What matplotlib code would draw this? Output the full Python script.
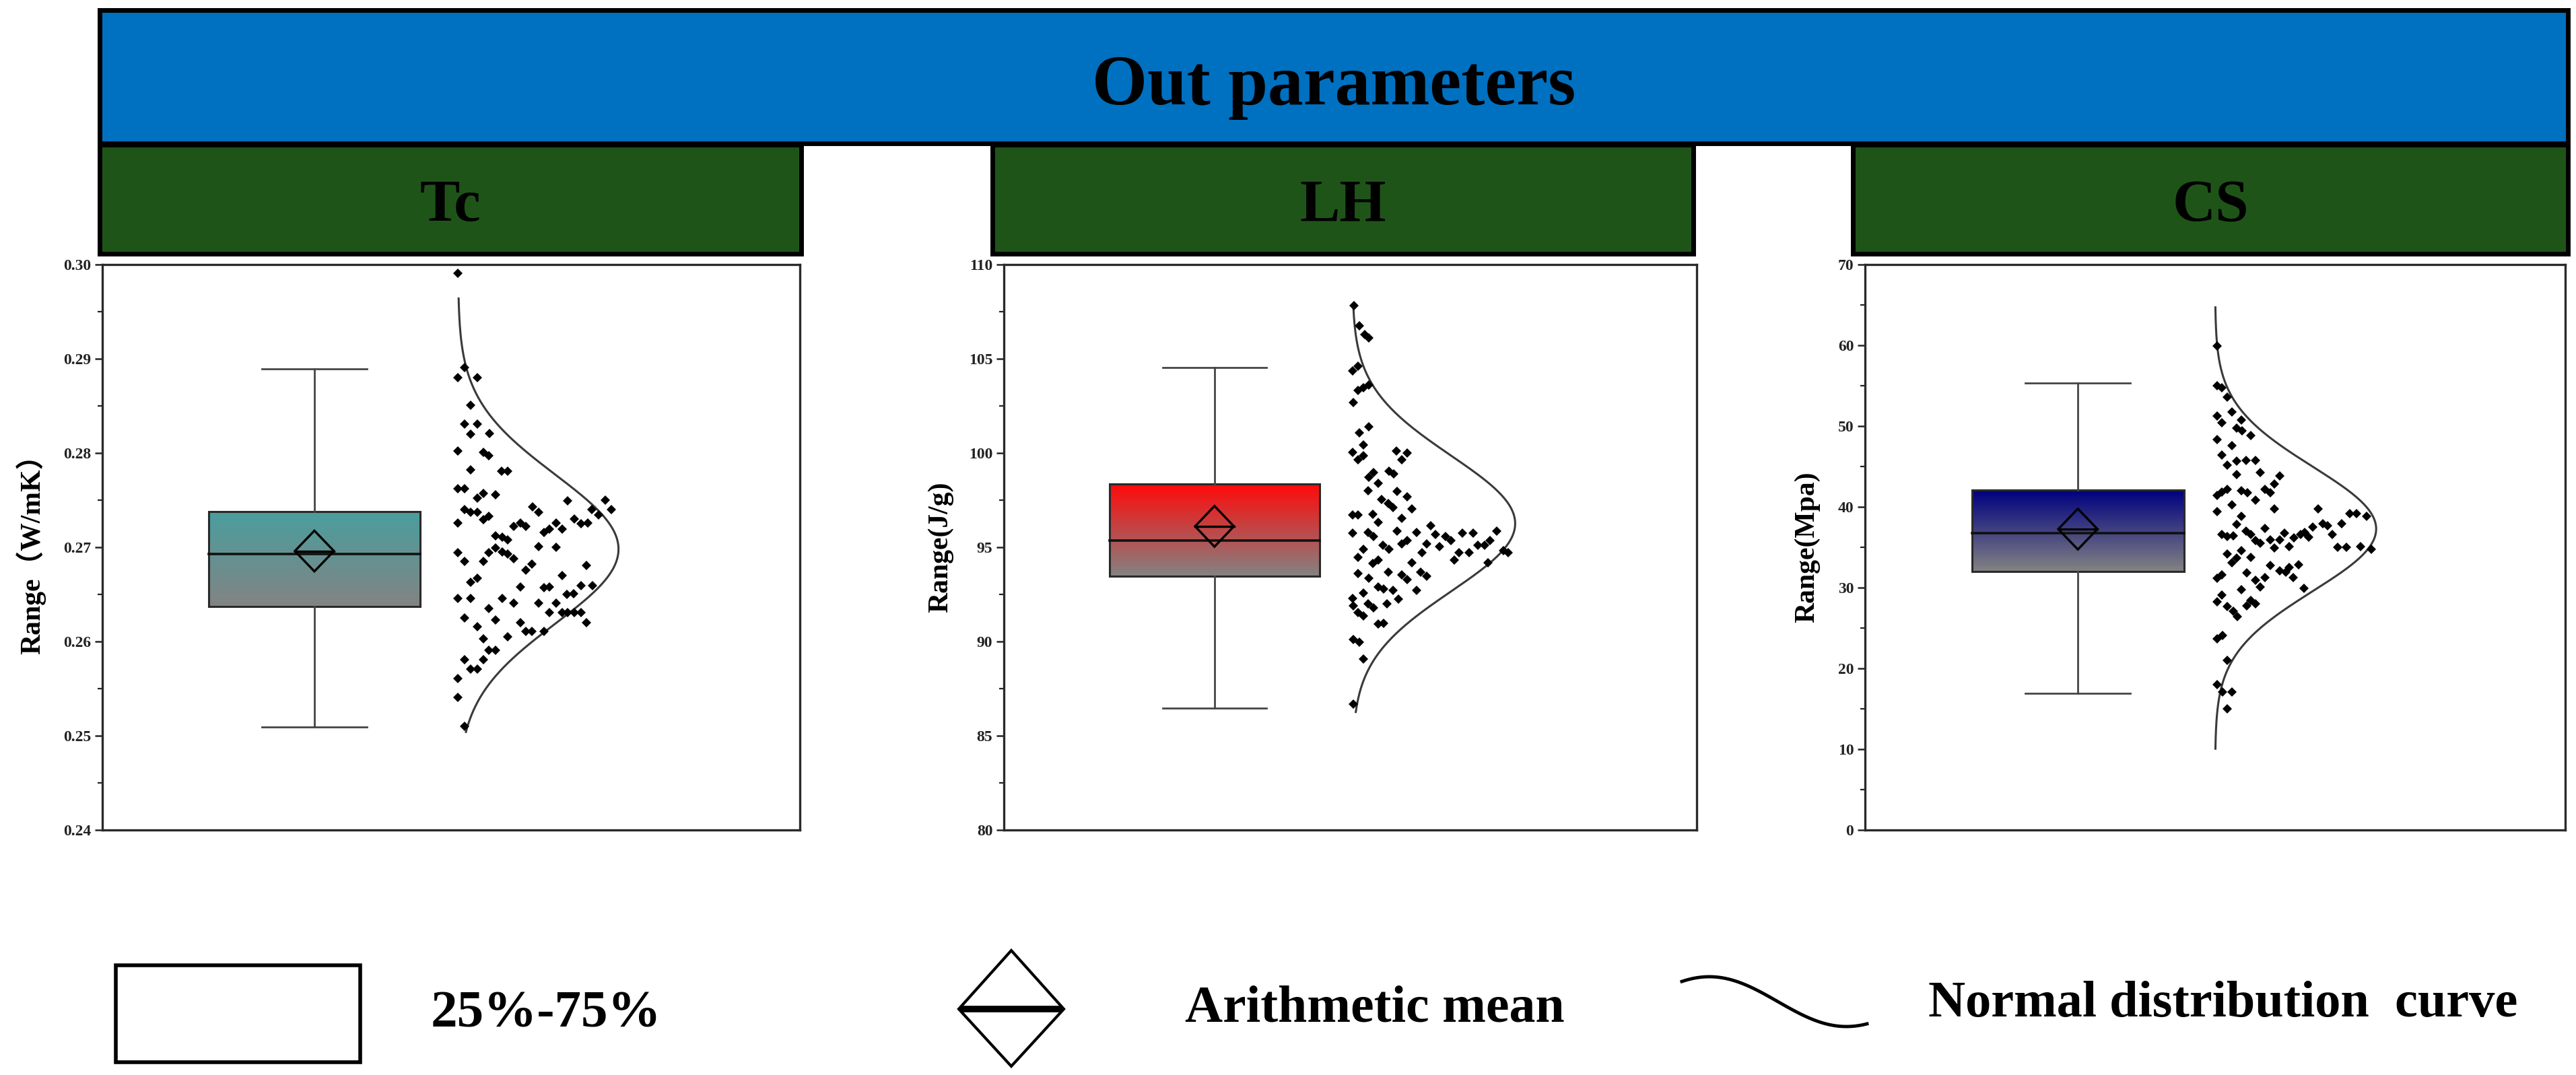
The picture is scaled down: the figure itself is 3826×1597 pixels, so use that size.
import numpy as np
import matplotlib
matplotlib.use("Agg")
import matplotlib.pyplot as plt
from matplotlib.patches import Rectangle, Polygon
from matplotlib.colors import to_rgb
from matplotlib.ticker import AutoMinorLocator, FormatStrFormatter

plt.rcParams['font.family'] = ['Liberation Serif', 'Noto Sans CJK SC', 'DejaVu Sans']
plt.rcParams['font.weight'] = 'bold'

# ---- data ----
header_title = 'Out parameters'
panel_names = ['Tc', 'LH', 'CS']
y_labels = ['Range（W/mK）', 'Range(J/g)', 'Range(Mpa)']
y_limits = [(0.24, 0.30), (80, 110), (0, 70)]
y_steps = [0.01, 5, 10]
tick_formats = ['%.2f', '%d', '%d']

box_q1 = [0.2637, 93.47, 32.02]
box_median = [0.2693, 95.34, 36.72]
box_q3 = [0.2738, 98.35, 42.08]
box_mean = [0.2696, 96.11, 37.25]
whisker_low = [0.2509, 86.47, 16.93]
whisker_high = [0.2889, 104.55, 55.34]

curve_mean = [0.2698, 96.26, 37.27]
curve_sd = [0.0079, 3.6, 7.7]
curve_low = [0.2504, 86.26, 10.06]
curve_high = [0.2964, 107.92, 64.7]

tc_values = [0.2991, 0.2891, 0.2880, 0.2880, 0.2851, 0.2831, 0.2831, 0.2820, 0.2821, 0.2802,
             0.2801, 0.2797, 0.2782, 0.2781, 0.2781, 0.2762, 0.2762, 0.2752, 0.2757, 0.2756,
             0.2740, 0.2737, 0.2737, 0.2729, 0.2733, 0.2726, 0.2743, 0.2737, 0.2749, 0.2750,
             0.2740, 0.2734, 0.2740, 0.2722, 0.2726, 0.2722, 0.2716, 0.2719, 0.2726, 0.2719,
             0.2730, 0.2725, 0.2726, 0.2712, 0.2711, 0.2708, 0.2694, 0.2699, 0.2695, 0.2693,
             0.2688, 0.2694, 0.2685, 0.2685, 0.2701, 0.2700, 0.2676, 0.2682, 0.2681, 0.2663,
             0.2667, 0.2658, 0.2657, 0.2658, 0.2670, 0.2659, 0.2659, 0.2650, 0.2651, 0.2646,
             0.2646, 0.2646, 0.2641, 0.2641, 0.2631, 0.2641, 0.2631, 0.2631, 0.2631, 0.2631,
             0.2620, 0.2625, 0.2616, 0.2635, 0.2623, 0.2620, 0.2611, 0.2611, 0.2611, 0.2603,
             0.2605, 0.2591, 0.2591, 0.2581, 0.2571, 0.2571, 0.2581, 0.2561, 0.2541, 0.2510]
tc_spread = [0, 0.042, 0, 0.120, 0.078, 0.042, 0.120, 0.078, 0.196, 0,
             0.158, 0.193, 0.078, 0.270, 0.311, 0, 0.042, 0.120, 0.158, 0.235,
             0.042, 0.078, 0.120, 0.158, 0.193, 0, 0.465, 0.500, 0.682, 0.916,
             0.835, 0.874, 0.954, 0.346, 0.388, 0.423, 0.535, 0.570, 0.612, 0.647,
             0.723, 0.765, 0.807, 0.235, 0.274, 0.311, 0.193, 0.235, 0.274, 0.311,
             0.346, 0, 0.042, 0.158, 0.500, 0.612, 0.423, 0.461, 0.800, 0.078,
             0.120, 0.388, 0.535, 0.570, 0.647, 0.765, 0.838, 0.679, 0.721, 0,
             0.078, 0.274, 0.346, 0.500, 0.570, 0.612, 0.647, 0.682, 0.723, 0.765,
             0.800, 0.042, 0.120, 0.193, 0.235, 0.388, 0.423, 0.461, 0.535, 0.158,
             0.311, 0.193, 0.235, 0.042, 0.078, 0.120, 0.158, 0, 0, 0.042]

lh_values = [107.82, 106.76, 106.27, 106.11, 104.37, 104.62, 103.32, 103.45, 103.59, 102.67,
             101.06, 101.41, 100.05, 99.66, 100.44, 99.86, 100.09, 99.66, 100.01, 98.73,
             98.98, 98.40, 99.04, 98.89, 98.01, 97.95, 97.68, 97.53, 97.33, 97.10,
             97.04, 96.71, 96.71, 96.75, 96.32, 96.52, 95.74, 95.78, 95.58, 95.87,
             95.78, 96.13, 95.68, 95.58, 95.35, 95.74, 95.74, 95.87, 95.35, 95.10,
             95.10, 94.81, 94.71, 95.10, 94.90, 95.19, 95.35, 94.71, 95.19, 95.04,
             94.71, 94.71, 94.32, 94.18, 94.46, 94.90, 94.13, 94.32, 94.18, 93.60,
             93.35, 93.68, 93.54, 93.29, 93.68, 93.45, 92.71, 92.90, 92.77, 92.71,
             92.57, 92.28, 91.89, 91.99, 91.79, 91.99, 92.24, 91.54, 91.35, 90.92,
             90.96, 90.10, 89.95, 89.07, 86.68]
lh_spread = [0.010, 0.041, 0.076, 0.103, 0, 0.034, 0.034, 0.069, 0.100, 0.007,
             0.041, 0.100, 0, 0.034, 0.069, 0.069, 0.269, 0.303, 0.337, 0.100,
             0.131, 0.158, 0.227, 0.255, 0.096, 0.275, 0.337, 0.179, 0.220, 0.248,
             0.365, 0, 0.034, 0.124, 0.158, 0.303, 0, 0.096, 0.131, 0.275,
             0.393, 0.482, 0.510, 0.572, 0.606, 0.675, 0.744, 0.888, 0.847, 0.771,
             0.813, 0.930, 0.957, 0.186, 0.227, 0.303, 0.337, 0.427, 0.455, 0.537,
             0.654, 0.716, 0.627, 0.833, 0.034, 0.069, 0.124, 0.158, 0.365, 0.034,
             0.103, 0.220, 0.303, 0.337, 0.420, 0.455, 0.393, 0.158, 0.193, 0.248,
             0.069, 0, 0.007, 0.096, 0.131, 0.213, 0.282, 0.034, 0.069, 0.158,
             0.193, 0.007, 0.041, 0.069, 0.007]

cs_values = [59.93, 55.04, 54.72, 53.59, 51.23, 50.41, 51.77, 50.78, 49.73, 49.42,
             48.83, 48.37, 47.60, 46.42, 45.20, 45.65, 45.79, 45.79, 43.98, 44.29,
             43.84, 42.80, 41.44, 41.80, 42.16, 42.03, 41.71, 40.80, 42.16, 41.71,
             39.44, 40.21, 39.76, 39.76, 39.17, 39.17, 38.85, 38.85, 37.81, 36.59,
             36.36, 36.45, 37.04, 36.59, 35.82, 35.54, 37.36, 35.91, 35.91, 36.72,
             34.91, 35.09, 36.13, 36.59, 36.81, 36.27, 37.49, 37.95, 37.63, 36.59,
             37.95, 35.00, 35.00, 35.09, 34.77, 34.18, 33.10, 33.64, 34.55, 33.73,
             32.73, 32.05, 31.92, 32.51, 32.82, 31.28, 29.92, 31.83, 30.92, 30.10,
             31.28, 31.15, 31.60, 29.79, 29.11, 28.29, 27.66, 27.07, 26.39, 27.75,
             27.97, 28.43, 23.67, 24.12, 21.04, 17.99, 17.09, 17.09, 14.96]
cs_spread = [0.011, 0.011, 0.042, 0.077, 0.011, 0.042, 0.104, 0.164, 0.132, 0.167,
             0.223, 0.011, 0.104, 0.042, 0.077, 0.132, 0.192, 0.251, 0.132, 0.281,
             0.401, 0.369, 0.011, 0.042, 0.077, 0.164, 0.202, 0.251, 0.309, 0.341,
             0.011, 0.104, 0.369, 0.638, 0.838, 0.877, 0.940, 0.164, 0.132, 0.042,
             0.077, 0.111, 0.192, 0.223, 0.251, 0.281, 0.309, 0.341, 0.401, 0.432,
             0.369, 0.460, 0.490, 0.529, 0.557, 0.582, 0.606, 0.669, 0.699, 0.727,
             0.787, 0.759, 0.815, 0.905, 0.968, 0.077, 0.104, 0.132, 0.164, 0.223,
             0.341, 0.401, 0.439, 0.460, 0.518, 0.487, 0.550, 0.195, 0.251, 0.281,
             0.309, 0.011, 0.042, 0.164, 0.042, 0.011, 0.077, 0.111, 0.139, 0.195,
             0.251, 0.223, 0.011, 0.045, 0.077, 0.011, 0.045, 0.104, 0.077]

point_values = [tc_values, lh_values, cs_values]
point_spread = [tc_spread, lh_spread, cs_spread]

legend_labels = ['25%-75%', 'Arithmetic mean', 'Normal distribution  curve']

# ---- styling ----
box_top_colors = ['#4a9e9e', '#ff0a0a', '#000080']
box_bottom_color = '#838383'
header_blue = '#0070c0'
header_green = '#1f5419'

W, H = 3826, 1597
fig = plt.figure(figsize=(W / 100, H / 100), dpi=100)

# axes boxes in pixels: left, right
axes_px = [(152, 1188), (1491, 2520), (2770, 3810)]
ax_top, ax_bottom = 393, 1233
label_x = [-0.081, -0.073, -0.064]
scatter_base = [0.510, 0.503, 0.500]
scatter_width = [0.230, 0.235, 0.230]

box_c, box_hw, cap_hw = 0.304, 0.1515, 0.075
dia_hw, dia_hh = 0.028, 0.036

for i in range(3):
    l, r = axes_px[i]
    ax = fig.add_axes([l / W, 1 - ax_bottom / H, (r - l) / W, (ax_bottom - ax_top) / H])
    lo, hi = y_limits[i]
    span = hi - lo

    # gradient box
    top = np.array(to_rgb(box_top_colors[i]))
    bot = np.array(to_rgb(box_bottom_color))
    t = np.linspace(0, 1, 256)[:, None]
    grad = (bot * (1 - t) + top * t)[:, None, :]
    ax.imshow(grad, extent=[box_c - box_hw, box_c + box_hw, box_q1[i], box_q3[i]],
              origin='lower', aspect='auto', interpolation='bilinear', zorder=1)
    ax.add_patch(Rectangle((box_c - box_hw, box_q1[i]), 2 * box_hw, box_q3[i] - box_q1[i],
                           fill=False, ec='#2a2a2a', lw=2.2, zorder=2))

    # whiskers
    wc = '#454545'
    ax.plot([box_c, box_c], [box_q3[i], whisker_high[i]], color=wc, lw=2, zorder=2)
    ax.plot([box_c, box_c], [box_q1[i], whisker_low[i]], color=wc, lw=2, zorder=2)
    ax.plot([box_c - cap_hw, box_c + cap_hw], [whisker_high[i]] * 2, color=wc, lw=2, zorder=2)
    ax.plot([box_c - cap_hw, box_c + cap_hw], [whisker_low[i]] * 2, color=wc, lw=2, zorder=2)

    # median
    ax.plot([box_c - box_hw, box_c + box_hw], [box_median[i]] * 2, color='#111111', lw=2.6, zorder=3)

    # mean diamond
    m = box_mean[i]
    hh = dia_hh * span
    ax.add_patch(Polygon([(box_c, m + hh), (box_c + dia_hw, m), (box_c, m - hh), (box_c - dia_hw, m)],
                         closed=True, fill=False, ec='black', lw=2.4, zorder=4))
    ax.plot([box_c - dia_hw, box_c + dia_hw], [m, m], color='black', lw=2.4, zorder=4)

    # normal curve
    yy = np.linspace(curve_low[i], curve_high[i], 400)
    xx = scatter_base[i] + scatter_width[i] * np.exp(-(yy - curve_mean[i]) ** 2 / (2 * curve_sd[i] ** 2))
    ax.plot(xx, yy, color='#3a3a3a', lw=2.2, zorder=3)

    # points
    px = scatter_base[i] + scatter_width[i] * np.array(point_spread[i])
    ax.plot(px, point_values[i], 'D', ms=7.5, color='black', mew=0, zorder=5)

    ax.set_xlim(0, 1)
    ax.set_ylim(lo, hi)
    ax.set_yticks(np.round(np.arange(lo, hi + y_steps[i] / 2, y_steps[i]), 4))
    ax.yaxis.set_minor_locator(AutoMinorLocator(2))
    ax.yaxis.set_major_formatter(FormatStrFormatter(tick_formats[i]))
    ax.tick_params(axis='y', which='major', length=8, width=1.8, direction='out',
                   labelsize=17, pad=4, colors='#222222')
    ax.tick_params(axis='y', which='minor', length=5, width=1.6, direction='out', colors='#222222')
    ax.tick_params(axis='x', bottom=False, labelbottom=False)
    for lab in ax.get_yticklabels():
        lab.set_fontweight('bold')
    for s in ax.spines.values():
        s.set_linewidth(2.4)
        s.set_color('#2a2a2a')

    ax.set_ylabel(y_labels[i], fontsize=30, fontweight='bold')
    ax.yaxis.set_label_coords(label_x[i], 0.5)

# ---- header bars and legend drawn in pixel space ----
ov = fig.add_axes([0, 0, 1, 1], zorder=-1)
ov.set_xlim(0, W)
ov.set_ylim(H, 0)
ov.axis('off')

ov.add_patch(Rectangle((148, 15), 3814 - 148, 213 - 15, fc=header_blue, ec='black', lw=5))
ov.text((148 + 3814) / 2, 155, header_title, ha='center', va='baseline', fontsize=76,
        fontweight='bold', color='black')

green_px = [(148, 1190), (1474, 2515), (2752, 3814)]
for (gl, gr), name in zip(green_px, panel_names):
    ov.add_patch(Rectangle((gl, 215), gr - gl, 377 - 215, fc=header_green, ec='black', lw=5))
    ov.text((gl + gr) / 2, 328, name, ha='center', va='baseline', fontsize=64,
            fontweight='bold', color='black')

# legend: box
ov.add_patch(Rectangle((172, 1434), 535 - 172, 1578 - 1434, fill=False, ec='black', lw=4))
ov.text(640, 1525, legend_labels[0], ha='left', va='baseline', fontsize=57, fontweight='bold')

# legend: mean diamond
dc, dy = 1502, 1499
ov.add_patch(Polygon([(dc, 1412), (dc + 78, dy), (dc, 1584), (dc - 78, dy)], closed=True,
                     fill=False, ec='black', lw=3))
ov.plot([dc - 76, dc + 76], [dy, dy], color='black', lw=7, solid_capstyle='butt')
ov.text(1760, 1517, legend_labels[1], ha='left', va='baseline', fontsize=56, fontweight='bold')

# legend: curve glyph
tt = np.linspace(-0.2 * np.pi, 1.15 * np.pi, 100)
ov.plot(2498 + (tt + 0.2 * np.pi) / (1.35 * np.pi) * 275, 1488 - 37 * np.cos(tt), color='black', lw=3.5)
ov.text(2864, 1510, legend_labels[2], ha='left', va='baseline', fontsize=55, fontweight='bold')

fig.savefig('out.png', dpi=100)
